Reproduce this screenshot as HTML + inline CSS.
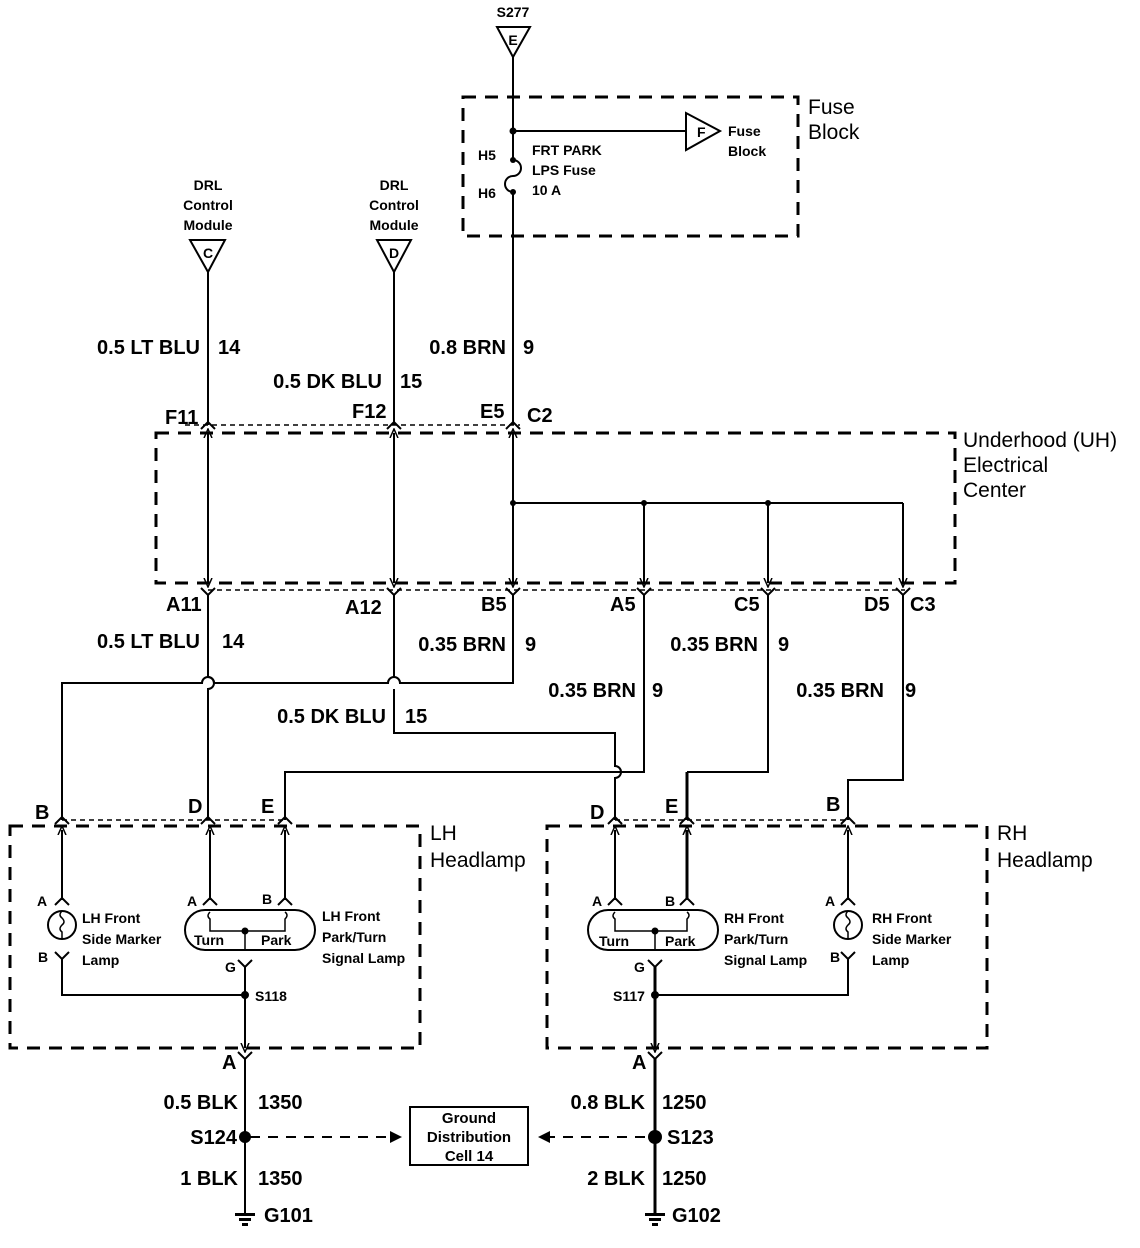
<!DOCTYPE html>
<html><head><meta charset="utf-8"><style>
html,body{margin:0;padding:0;background:#fff}
svg{display:block}
text{font-family:"Liberation Sans",sans-serif;fill:#000}
.w{font-size:20px;font-weight:bold}
.s{font-size:14px;font-weight:bold}
.m{font-size:15px;font-weight:bold}
.b{font-size:21px}
</style></head><body>
<svg width="1140" height="1248" viewBox="0 0 1140 1248" xmlns="http://www.w3.org/2000/svg">
<defs>
<marker id="ar" markerWidth="10" markerHeight="10" refX="5" refY="5" orient="auto-start-reverse" markerUnits="userSpaceOnUse"><path d="M0,1 L9,5 L0,9" fill="none" stroke="#000" stroke-width="1.5"/></marker>
</defs>
<g fill="none" stroke="#000" stroke-width="2">
<rect x="463" y="97" width="335" height="139" stroke-width="3" stroke-dasharray="13,9"/>
<rect x="156" y="433" width="799" height="150" stroke-width="3" stroke-dasharray="13,9"/>
<rect x="10" y="826" width="410" height="222" stroke-width="3" stroke-dasharray="13,9"/>
<rect x="547" y="826" width="440" height="222" stroke-width="3" stroke-dasharray="13,9"/>
<line x1="185" y1="425" x2="520" y2="425" stroke-dasharray="5,4" stroke-width="1.5"/>
<line x1="208" y1="590" x2="905" y2="590" stroke-dasharray="5,4" stroke-width="1.5"/>
<line x1="62" y1="820" x2="285" y2="820" stroke-dasharray="5,4" stroke-width="1.5"/>
<line x1="615" y1="820" x2="848" y2="820" stroke-dasharray="5,4" stroke-width="1.5"/>

<path d="M497,27 L530,27 L513,57 Z"/>
<path d="M190,240 L225,240 L208,272 Z"/>
<path d="M377,240 L411,240 L394,272 Z"/>
<path d="M686,113 L686,150 L720,131 Z"/>
<line x1="513" y1="57" x2="513" y2="160"/>
<path d="M513,160 a8,8 0 0 1 0,16 a8,8 0 0 0 0,16"/>
<line x1="513" y1="192" x2="513" y2="425"/>
<line x1="513" y1="131" x2="686" y2="131"/>
<line x1="208" y1="272" x2="208" y2="425"/>
<line x1="394" y1="272" x2="394" y2="425"/>
<path d="M201,429 L208,422 L215,429 M387,429 L394,422 L401,429 M506,429 L513,422 L520,429"/>
<line x1="208" y1="433" x2="208" y2="583" marker-start="url(#ar)" marker-end="url(#ar)"/>
<line x1="394" y1="433" x2="394" y2="583" marker-start="url(#ar)" marker-end="url(#ar)"/>
<line x1="513" y1="433" x2="513" y2="583" marker-start="url(#ar)" marker-end="url(#ar)"/>
<line x1="513" y1="503" x2="903" y2="503"/>
<line x1="644" y1="503" x2="644" y2="583" marker-end="url(#ar)"/>
<line x1="768" y1="503" x2="768" y2="583" marker-end="url(#ar)"/>
<line x1="903" y1="503" x2="903" y2="583" marker-end="url(#ar)"/>
<path d="M201,588 L208,595 L215,588 M387,588 L394,595 L401,588 M506,588 L513,595 L520,588 M637,588 L644,595 L651,588 M761,588 L768,595 L775,588 M896,588 L903,595 L910,588"/>
<path d="M208,595 L208,677 a6,6 0 0 1 0,12 L208,820"/>
<path d="M513,595 L513,683 L400,683 a6,6 0 0 0 -12,0 L214,683 a6,6 0 0 0 -12,0 L62,683 L62,820"/>
<path d="M394,595 L394,677 M394,689 L394,733 L615,733 L615,766 a6,6 0 0 1 0,12 L615,820"/>
<path d="M644,595 L644,772 L285,772 L285,820"/>
<path d="M768,595 L768,772 L687,772"/>
<path d="M687,772 L687,820" stroke-width="3"/>
<path d="M903,595 L903,780 L848,780 L848,820"/>
<path d="M55,824 L62,817 L69,824 M201,824 L208,817 L215,824 M278,824 L285,817 L292,824 M608,824 L615,817 L622,824 M680,824 L687,817 L694,824 M841,824 L848,817 L855,824"/>
<line x1="62" y1="900" x2="62" y2="830" marker-end="url(#ar)"/>
<line x1="210" y1="900" x2="210" y2="830" marker-end="url(#ar)"/>
<line x1="285" y1="900" x2="285" y2="830" marker-end="url(#ar)"/>
<path d="M55,905 L62,898 L69,905 M203,905 L210,898 L217,905 M278,905 L285,898 L292,905"/>
<circle cx="62" cy="925" r="14"/>
<path d="M62,911 q-4,4 0,7 q4,4 0,7 q-4,4 0,7 l0,7" stroke-width="1.5"/>
<path d="M55,952 L62,959 L69,952"/>
<path d="M62,959 L62,995 L245,995"/>
<rect x="185" y="910" width="130" height="40" rx="20"/>
<path d="M210,912 q-4,4 0,7 l0,12 L285,931 L285,919 q4,-4 0,-7" stroke-width="1.5"/>
<line x1="245" y1="931" x2="245" y2="950" stroke-width="1.5"/>
<circle cx="245" cy="931" r="2.5" fill="#000"/>
<path d="M238,960 L245,967 L252,960"/>
<line x1="245" y1="967" x2="245" y2="1048" marker-end="url(#ar)"/>
<circle cx="245" cy="995" r="3" fill="#000"/>
<path d="M238,1052 L245,1059 L252,1052"/>
<line x1="245" y1="1059" x2="245" y2="1213"/>
<line x1="615" y1="900" x2="615" y2="830" marker-end="url(#ar)"/>
<line x1="687" y1="900" x2="687" y2="830" marker-end="url(#ar)" stroke-width="3"/>
<line x1="848" y1="900" x2="848" y2="830" marker-end="url(#ar)"/>
<path d="M608,905 L615,898 L622,905 M680,905 L687,898 L694,905 M841,905 L848,898 L855,905"/>
<rect x="588" y="910" width="130" height="40" rx="20"/>
<path d="M615,912 q-4,4 0,7 l0,12 L687,931 L687,919 q4,-4 0,-7" stroke-width="1.5"/>
<line x1="655" y1="931" x2="655" y2="950" stroke-width="1.5"/>
<circle cx="655" cy="931" r="2.5" fill="#000"/>
<circle cx="848" cy="925" r="14"/>
<path d="M848,911 q-4,4 0,7 q4,4 0,7 q-4,4 0,7 l0,7" stroke-width="1.5"/>
<path d="M841,952 L848,959 L855,952"/>
<path d="M848,959 L848,995 L655,995"/>
<path d="M648,960 L655,967 L662,960"/>
<line x1="655" y1="967" x2="655" y2="1048" marker-end="url(#ar)" stroke-width="3"/>
<circle cx="655" cy="995" r="3" fill="#000"/>
<path d="M648,1052 L655,1059 L662,1052"/>
<line x1="655" y1="1059" x2="655" y2="1213" stroke-width="3"/>
<line x1="250" y1="1137" x2="392" y2="1137" stroke-dasharray="10,8"/>
<line x1="545" y1="1137" x2="650" y2="1137" stroke-dasharray="10,8"/>
<rect x="410" y="1107" width="118" height="58"/>
</g>
<g fill="#000">
<circle cx="513" cy="131" r="3.5"/>
<circle cx="513" cy="160" r="3"/><circle cx="513" cy="192" r="3"/>
<circle cx="513" cy="503" r="3"/><circle cx="644" cy="503" r="3"/><circle cx="768" cy="503" r="3"/>
<circle cx="245" cy="1137" r="6"/><circle cx="655" cy="1137" r="7"/>
<path d="M390,1131 L402,1137 L390,1143 Z"/>
<path d="M550,1131 L538,1137 L550,1143 Z"/>
<rect x="235" y="1213" width="20" height="3"/><rect x="239" y="1218" width="12" height="3"/><rect x="242" y="1223" width="6" height="3"/>
<rect x="645" y="1213" width="20" height="3"/><rect x="649" y="1218" width="12" height="3"/><rect x="652" y="1223" width="6" height="3"/>
</g>

<text x="513" y="17" class="s" text-anchor="middle">S277</text>
<text x="513" y="45" class="s" text-anchor="middle">E</text>
<text x="208" y="258" class="s" text-anchor="middle">C</text>
<text x="394" y="258" class="s" text-anchor="middle">D</text>
<text x="697" y="137" class="s">F</text>
<text x="728" y="136" class="s">Fuse</text><text x="728" y="156" class="s">Block</text>
<text x="808" y="114" class="b">Fuse</text><text x="808" y="139" class="b">Block</text>
<text x="478" y="160" class="s">H5</text><text x="478" y="198" class="s">H6</text>
<text x="532" y="155" class="s">FRT PARK</text><text x="532" y="175" class="s">LPS Fuse</text><text x="532" y="195" class="s">10 A</text>
<g class="s" text-anchor="middle">
<text x="208" y="190">DRL</text><text x="208" y="210">Control</text><text x="208" y="230">Module</text>
<text x="394" y="190">DRL</text><text x="394" y="210">Control</text><text x="394" y="230">Module</text>
</g>
<g class="w">
<text x="200" y="354" text-anchor="end">0.5 LT BLU</text><text x="218" y="354">14</text>
<text x="382" y="388" text-anchor="end">0.5 DK BLU</text><text x="400" y="388">15</text>
<text x="506" y="354" text-anchor="end">0.8 BRN</text><text x="523" y="354">9</text>
<text x="165" y="424">F11</text><text x="352" y="418">F12</text><text x="480" y="418">E5</text><text x="527" y="422">C2</text>
<text x="166" y="611">A11</text><text x="345" y="614">A12</text><text x="481" y="611">B5</text><text x="610" y="611">A5</text><text x="734" y="611">C5</text><text x="864" y="611">D5</text><text x="910" y="611">C3</text>
<text x="200" y="648" text-anchor="end">0.5 LT BLU</text><text x="222" y="648">14</text>
<text x="506" y="651" text-anchor="end">0.35 BRN</text><text x="525" y="651">9</text>
<text x="758" y="651" text-anchor="end">0.35 BRN</text><text x="778" y="651">9</text>
<text x="636" y="697" text-anchor="end">0.35 BRN</text><text x="652" y="697">9</text>
<text x="884" y="697" text-anchor="end">0.35 BRN</text><text x="905" y="697">9</text>
<text x="386" y="723" text-anchor="end">0.5 DK BLU</text><text x="405" y="723">15</text>
<text x="35" y="819">B</text><text x="188" y="813">D</text><text x="261" y="813">E</text>
<text x="590" y="819">D</text><text x="665" y="813">E</text><text x="826" y="811">B</text>
<text x="222" y="1069">A</text><text x="632" y="1069">A</text>
<text x="238" y="1109" text-anchor="end">0.5 BLK</text><text x="258" y="1109">1350</text>
<text x="237" y="1144" text-anchor="end">S124</text>
<text x="238" y="1185" text-anchor="end">1 BLK</text><text x="258" y="1185">1350</text>
<text x="264" y="1222">G101</text>
<text x="645" y="1109" text-anchor="end">0.8 BLK</text><text x="662" y="1109">1250</text>
<text x="667" y="1144">S123</text>
<text x="645" y="1185" text-anchor="end">2 BLK</text><text x="662" y="1185">1250</text>
<text x="672" y="1222">G102</text>
</g>
<g class="b">
<text x="430" y="840">LH</text><text x="430" y="867">Headlamp</text>
<text x="997" y="840">RH</text><text x="997" y="867">Headlamp</text>
<text x="963" y="447">Underhood (UH)</text><text x="963" y="472">Electrical</text><text x="963" y="497">Center</text>
</g>
<g class="s">
<text x="37" y="906">A</text><text x="38" y="962">B</text>
<text x="187" y="906">A</text><text x="262" y="904">B</text><text x="225" y="972">G</text>
<text x="255" y="1001">S118</text>
<text x="82" y="923">LH Front</text><text x="82" y="944">Side Marker</text><text x="82" y="965">Lamp</text>
<text x="322" y="921">LH Front</text><text x="322" y="942">Park/Turn</text><text x="322" y="963">Signal Lamp</text>
<text x="194" y="945">Turn</text><text x="261" y="945">Park</text>
<text x="592" y="906">A</text><text x="665" y="906">B</text><text x="634" y="972">G</text>
<text x="613" y="1001">S117</text>
<text x="724" y="923">RH Front</text><text x="724" y="944">Park/Turn</text><text x="724" y="965">Signal Lamp</text>
<text x="825" y="906">A</text><text x="830" y="962">B</text>
<text x="872" y="923">RH Front</text><text x="872" y="944">Side Marker</text><text x="872" y="965">Lamp</text>
<text x="599" y="946">Turn</text><text x="665" y="946">Park</text>
</g>
<g class="m" text-anchor="middle">
<text x="469" y="1123">Ground</text><text x="469" y="1142">Distribution</text><text x="469" y="1161">Cell 14</text>
</g>
</svg>
</body></html>
